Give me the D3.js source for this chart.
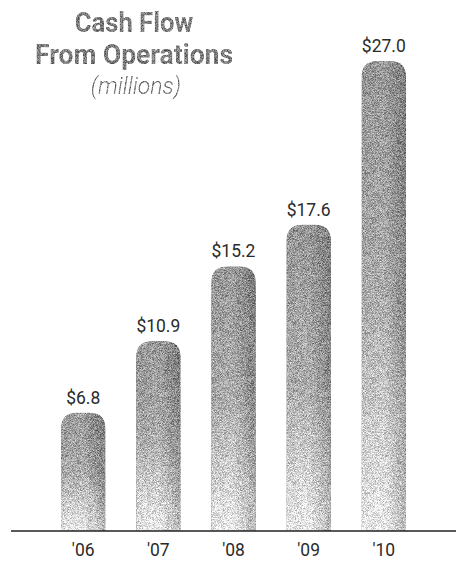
<!DOCTYPE html>
<html>
<head>
<meta charset="utf-8">
<script src="https://cdn.jsdelivr.net/npm/d3@7"></script>
<style>
  body { margin: 0; background: #fff; }
  text { font-family: "Roboto", "Liberation Sans", sans-serif; }
</style>
</head>
<body>
<div id="chart"></div>
<script>
(function(){
  var years = ["'06", "'07", "'08", "'09", "'10"];
  var values = [6.8, 10.9, 15.2, 17.6, 27.0];
  var valueLabels = ["$6.8", "$10.9", "$15.2", "$17.6", "$27.0"];

  var width = 456,
      height = 566,
      baseY = 531;

  var svg = d3.select('#chart')
    .append('svg')
    .attr('width', width)
    .attr('height', height)

  var x = d3.scaleBand().domain(years).range([46, 421]).paddingInner(0.41).paddingOuter(0.2)
  var y = d3.scaleLinear().domain([0, 27]).range([baseY, 61])

  var defs = svg.append('defs')

  // vertical shading: mid gray at the top, nearly white at the foot
  var vg = defs.append('linearGradient').attr('id', 'vshade')
    .attr('x1', 0).attr('y1', 0).attr('x2', 0).attr('y2', 1)
  vg.append('stop').attr('offset', '0%').attr('stop-color', '#989898')
  vg.append('stop').attr('offset', '50%').attr('stop-color', '#acacac')
  vg.append('stop').attr('offset', '100%').attr('stop-color', '#ebebeb')

  // right edge darkening
  var hg = defs.append('linearGradient').attr('id', 'hshade')
    .attr('x1', 0).attr('y1', 0).attr('x2', 1).attr('y2', 0)
  hg.append('stop').attr('offset', '0%').attr('stop-color', '#000').attr('stop-opacity', 0.03)
  hg.append('stop').attr('offset', '50%').attr('stop-color', '#000').attr('stop-opacity', 0)
  hg.append('stop').attr('offset', '100%').attr('stop-color', '#000').attr('stop-opacity', 0.22)

  // stipple grain
  var f = defs.append('filter').attr('id', 'grain')
    .attr('color-interpolation-filters', 'sRGB')
    .attr('x', 0).attr('y', 0).attr('width', 1).attr('height', 1)
  f.append('feTurbulence').attr('type', 'fractalNoise').attr('baseFrequency', 1.6)
    .attr('numOctaves', 1).attr('seed', 7).attr('result', 'noise')
  f.append('feColorMatrix').attr('in', 'noise').attr('type', 'matrix')
    .attr('values', '2.2 0 0 0 -0.6  2.2 0 0 0 -0.6  2.2 0 0 0 -0.6  0 0 0 0 1').attr('result', 'gn')
  f.append('feComposite').attr('in', 'gn').attr('in2', 'SourceGraphic').attr('operator', 'arithmetic')
    .attr('k1', 0).attr('k2', 0.45).attr('k3', 1).attr('k4', -0.22).attr('result', 'mix')
  f.append('feComposite').attr('in', 'mix').attr('in2', 'SourceAlpha').attr('operator', 'in')

  function barPath(d, i){
    var x0 = x(years[i]), w = x.bandwidth(), top = y(d), r = 16
    return 'M' + x0 + ',' + baseY +
      'V' + (top + r) +
      'Q' + x0 + ',' + top + ' ' + (x0 + r) + ',' + top +
      'H' + (x0 + w - r) +
      'Q' + (x0 + w) + ',' + top + ' ' + (x0 + w) + ',' + (top + r) +
      'V' + baseY + 'Z'
  }

  var bars = svg.append('g').attr('filter', 'url(#grain)')
  bars.selectAll('.bar')
    .data(values)
    .enter().append('path')
    .attr('class', 'bar')
    .attr('d', barPath)
    .attr('fill', 'url(#vshade)')
  bars.selectAll('.edge')
    .data(values)
    .enter().append('path')
    .attr('class', 'edge')
    .attr('d', barPath)
    .attr('fill', 'url(#hshade)')

  svg.selectAll('.val')
    .data(values)
    .enter().append('text')
    .attr('class', 'val')
    .attr('transform', function(d, i){
      return 'translate(' + (x(years[i]) + x.bandwidth()/2) + ',' + (y(d) - 9) + ') scale(0.92,1)'
    })
    .attr('text-anchor', 'middle')
    .attr('font-size', 19)
    .attr('fill', '#2a2a2a')
    .text(function(d, i){ return valueLabels[i] })

  // baseline
  svg.append('line')
    .attr('x1', 11).attr('x2', width)
    .attr('y1', baseY).attr('y2', baseY)
    .attr('stroke', '#222').attr('stroke-width', 1.3)

  var xAxis = svg.append('g')
    .attr('transform', 'translate(0,' + baseY + ')')
    .call(d3.axisBottom(x).tickSize(0).tickPadding(12))
  xAxis.select('.domain').remove()
  xAxis.selectAll('text')
    .attr('font-size', 19)
    .attr('fill', '#2a2a2a')
    .attr('transform', 'scale(0.92,1)')
    .style('font-family', 'Roboto, sans-serif')

  // title
  var title = svg.append('g').attr('filter', 'url(#grain)')
  title.append('text')
    .attr('transform', 'translate(134,32) scale(0.95,1)')
    .attr('text-anchor', 'middle')
    .attr('font-size', 27).attr('font-weight', 'bold')
    .attr('fill', '#7a7a7a')
    .text('Cash Flow')
  title.append('text')
    .attr('transform', 'translate(134,64) scale(0.98,1)')
    .attr('text-anchor', 'middle')
    .attr('font-size', 27).attr('font-weight', 'bold')
    .attr('fill', '#7a7a7a')
    .text('From Operations')
  title.append('text')
    .attr('x', 136).attr('y', 94)
    .attr('text-anchor', 'middle')
    .attr('font-size', 23).attr('font-style', 'italic').attr('font-weight', 300)
    .attr('fill', '#7e7e7e')
    .text('(millions)')
})()
</script>
</body>
</html>
